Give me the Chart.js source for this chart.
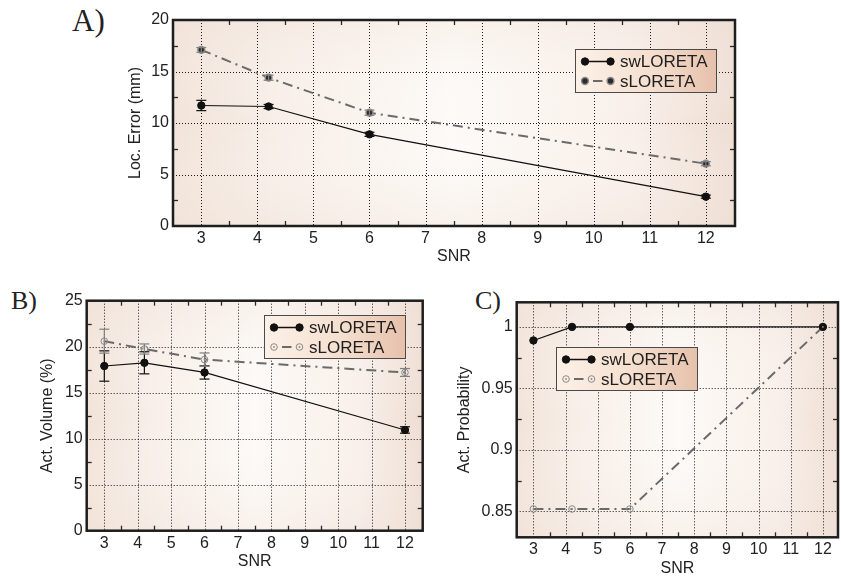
<!DOCTYPE html>
<html>
<head>
<meta charset="utf-8">
<title>swLORETA vs sLORETA</title>
<script src="https://cdn.jsdelivr.net/npm/chart.js@4.4.1/dist/chart.umd.min.js"></script>
<style>
  html, body { margin: 0; padding: 0; background: #fff; overflow: hidden; }
  canvas { position: absolute; }
  .tag { position: absolute; font-family: "Liberation Serif", "Times New Roman", serif; line-height: 1; color: #222; }
</style>
</head>
<body>
<div class="tag" style="left:72px; top:5px; font-size:31px;">A)</div>
<div class="tag" style="left:11px; top:288px; font-size:26px;">B)</div>
<div class="tag" style="left:475px; top:288px; font-size:26px;">C)</div>

<canvas id="chartA" width="841" height="275" style="left:0; top:0;"></canvas>
<canvas id="chartB" width="440" height="308" style="left:0; top:275px;"></canvas>
<canvas id="chartC" width="403" height="308" style="left:440px; top:275px;"></canvas>

<script>
// SNR levels of the simulations
const snrLevels = [3, 4.2, 6, 12];
const snrTicks = [3, 4, 5, 6, 7, 8, 9, 10, 11, 12];
const snrMinorTicks = [3.5, 4.5, 5.5, 6.5, 7.5, 8.5, 9.5, 10.5, 11.5];

const seriesNames = ['swLORETA', 'sLORETA'];

// A) localization error (mm)
const locErrorSw = [11.7, 11.6, 8.9, 2.85];
const locErrorSwErr = [0.5, 0.2, 0.2, 0.15];
const locErrorS = [17.1, 14.4, 11.0, 6.05];
const locErrorSErr = [0.23, 0.25, 0.25, 0.2];
const locErrorTicks = [0, 5, 10, 15, 20];
const locErrorMinorTicks = [2.5, 7.5, 12.5, 17.5];

// B) activated volume (%)
const actVolumeSw = [17.9, 18.25, 17.2, 10.95];
const actVolumeSwErr = [1.65, 1.2, 0.72, 0.35];
const actVolumeS = [20.6, 19.75, 18.6, 17.2];
const actVolumeSErr = [1.3, 0.55, 0.72, 0.43];
const actVolumeTicks = [0, 5, 10, 15, 20, 25];
const actVolumeMinorTicks = [2.5, 7.5, 12.5, 17.5, 22.5];

// C) activation probability
const actProbSw = [0.989, 1, 1, 1];
const actProbS = [0.852, 0.852, 0.852, 1];
const actProbTicks = [0.85, 0.9, 0.95, 1];
const actProbMinorTicks = [0.875, 0.925, 0.975];

Chart.defaults.font.family = '"Liberation Sans", Arial, sans-serif';
Chart.defaults.color = '#222';

// Turn x and y arrays into {x, y} points
function toPoints(values) {
    return snrLevels.map((x, i) => ({ x: x, y: values[i] }));
}

function line(ctx, x0, y0, x1, y1) {
    ctx.beginPath();
    ctx.moveTo(x0, y0);
    ctx.lineTo(x1, y1);
    ctx.stroke();
}

// Background, dotted grid, error bars, frame, inward ticks and legend box
const paperPlugin = {
    id: 'paper',
    beforeDraw(chart) {
        const { ctx, chartArea: a } = chart;
        ctx.save();
        const g = ctx.createLinearGradient(a.left, 0, a.right, 0);
        g.addColorStop(0, '#f1e3d9');
        g.addColorStop(0.18, '#f7eee7');
        g.addColorStop(0.5, '#fdfaf7');
        g.addColorStop(0.82, '#f8efe9');
        g.addColorStop(1, '#eeddd2');
        ctx.fillStyle = g;
        ctx.fillRect(a.left, a.top, a.width, a.height);
        const v = ctx.createLinearGradient(0, a.top, 0, a.bottom);
        v.addColorStop(0, 'rgba(240, 226, 216, 0.35)');
        v.addColorStop(0.5, 'rgba(255, 255, 255, 0)');
        v.addColorStop(1, 'rgba(240, 226, 216, 0.35)');
        ctx.fillStyle = v;
        ctx.fillRect(a.left, a.top, a.width, a.height);
        ctx.restore();
    },
    beforeDatasetsDraw(chart) {
        const { ctx, chartArea: a, scales: { x, y } } = chart;
        ctx.save();
        ctx.strokeStyle = '#1a1a1a';
        ctx.lineWidth = 1;
        ctx.setLineDash([1, 2]);
        x.ticks.forEach(t => {
            const px = Math.round(x.getPixelForValue(t.value)) + 0.5;
            line(ctx, px, a.top, px, a.bottom);
        });
        y.ticks.forEach(t => {
            const py = Math.round(y.getPixelForValue(t.value)) + 0.5;
            line(ctx, a.left, py, a.right, py);
        });
        ctx.restore();
    },
    afterDatasetsDraw(chart) {
        const { ctx, scales: { y } } = chart;
        ctx.save();
        chart.data.datasets.forEach((ds, i) => {
            const meta = chart.getDatasetMeta(i);
            meta.data.forEach((pt, j) => {
                if (ds.errorBars) {
                    const val = ds.data[j].y;
                    const top = y.getPixelForValue(val + ds.errorBars[j]);
                    const bot = y.getPixelForValue(val - ds.errorBars[j]);
                    ctx.strokeStyle = ds.errorColor;
                    ctx.lineWidth = 1.2;
                    line(ctx, pt.x, top, pt.x, bot);
                    line(ctx, pt.x - 5, top, pt.x + 5, top);
                    line(ctx, pt.x - 5, bot, pt.x + 5, bot);
                }
                if (ds.centerDot) {
                    ctx.fillStyle = ds.pointBorderColor;
                    ctx.beginPath();
                    ctx.arc(pt.x, pt.y, 0.9, 0, Math.PI * 2);
                    ctx.fill();
                }
            });
        });
        ctx.restore();
    },
    afterDraw(chart, args, opts) {
        const { ctx, chartArea: a, scales: { x, y } } = chart;
        ctx.save();
        // inward minor ticks
        ctx.strokeStyle = '#2a2a2a';
        ctx.lineWidth = 1.3;
        opts.minorX.forEach(v => {
            const px = Math.round(x.getPixelForValue(v)) + 0.5;
            line(ctx, px, a.top, px, a.top + 5);
            line(ctx, px, a.bottom, px, a.bottom - 5);
        });
        opts.minorY.forEach(v => {
            const py = Math.round(y.getPixelForValue(v)) + 0.5;
            line(ctx, a.left, py, a.left + 5, py);
            line(ctx, a.right, py, a.right - 5, py);
        });
        // frame
        ctx.strokeStyle = '#1e1e1e';
        ctx.lineWidth = 2.5;
        ctx.strokeRect(a.left, a.top, a.width, a.height);
        drawLegend(chart, opts.legend);
        ctx.restore();
    }
};

function drawLegend(chart, pos) {
    const { ctx, chartArea: a } = chart;
    const bx = Math.round(a.left + pos.left), by = Math.round(a.top + pos.top);
    const bw = 141, bh = 43;
    const g = ctx.createLinearGradient(bx, 0, bx + bw, 0);
    g.addColorStop(0, '#fcf1e7');
    g.addColorStop(0.55, '#f5dfcf');
    g.addColorStop(1, '#e6c1ac');
    ctx.fillStyle = g;
    ctx.fillRect(bx, by, bw, bh);
    ctx.strokeStyle = '#4a4a4a';
    ctx.lineWidth = 1;
    ctx.strokeRect(bx + 0.5, by + 0.5, bw, bh);

    chart.data.datasets.forEach((ds, i) => {
        const ry = by + 12.5 + i * 19.5;
        const x0 = bx + 10, x1 = bx + 35.5;
        ctx.strokeStyle = ds.borderColor;
        ctx.lineWidth = ds.borderDash ? 2 : 1.5;
        if (ds.borderDash) {
            line(ctx, x0 + 8, ry, x1 - 8, ry);
        } else {
            line(ctx, x0, ry, x1, ry);
        }
        [x0, x1].forEach(mx => {
            ctx.beginPath();
            ctx.arc(mx, ry, ds.pointRadius, 0, Math.PI * 2);
            ctx.fillStyle = ds.pointBackgroundColor;
            ctx.fill();
            ctx.lineWidth = ds.pointBorderWidth;
            ctx.strokeStyle = ds.pointBorderColor;
            ctx.stroke();
            if (ds.centerDot) {
                ctx.beginPath();
                ctx.arc(mx, ry, 0.9, 0, Math.PI * 2);
                ctx.fillStyle = ds.pointBorderColor;
                ctx.fill();
            }
        });
        ctx.fillStyle = '#1e1e1e';
        ctx.font = '17px "Liberation Sans", Arial, sans-serif';
        ctx.textBaseline = 'middle';
        ctx.fillText(ds.label, bx + 45, ry + 1);
    });
}

// Axis setup shared by the three panels
function makeScales(p) {
    return {
        x: {
            type: 'linear',
            min: p.xMin,
            max: p.xMax,
            afterBuildTicks: s => { s.ticks = snrTicks.map(v => ({ value: v })); },
            afterFit: s => { s.height = p.xHeight; },
            grid: { display: false, drawTicks: false },
            border: { display: false },
            ticks: { padding: 3, autoSkip: false, maxRotation: 0, font: { size: 16 }, callback: v => String(v) },
            title: { display: true, text: 'SNR', padding: 0, font: { size: 16 } }
        },
        y: {
            type: 'linear',
            min: p.yMin,
            max: p.yMax,
            afterBuildTicks: s => { s.ticks = p.yTicks.map(v => ({ value: v })); },
            afterFit: s => { s.width = p.yWidth; },
            grid: { display: false, drawTicks: false },
            border: { display: false },
            ticks: { padding: 4, autoSkip: false, font: { size: 16 }, callback: v => String(v) },
            title: { display: true, text: p.yTitle, padding: 0, font: { size: 16 } }
        }
    };
}

function swDataset(values, errors) {
    return {
        label: seriesNames[0],
        data: toPoints(values),
        borderColor: '#111',
        borderWidth: 1.2,
        pointRadius: 3.7,
        pointBackgroundColor: '#111',
        pointBorderColor: '#111',
        pointBorderWidth: 1,
        errorBars: errors,
        errorColor: '#111',
        tension: 0,
        fill: false
    };
}

function sDataset(values, errors, hollow) {
    return {
        label: seriesNames[1],
        data: toPoints(values),
        borderColor: '#6a6a6a',
        borderWidth: 2,
        borderDash: [10, 5, 2, 5],
        pointRadius: hollow ? 3.3 : 3.4,
        pointBackgroundColor: hollow ? 'rgba(255,255,255,0)' : '#2b2b2b',
        pointBorderColor: '#8a8a8a',
        pointBorderWidth: hollow ? 1 : 1.5,
        centerDot: hollow,
        errorBars: errors,
        errorColor: '#808080',
        tension: 0,
        fill: false
    };
}

function createPanel(id, datasets, scaleParams, padding, plotOpts) {
    new Chart(document.getElementById(id), {
        type: 'line',
        data: { datasets: datasets },
        options: {
            responsive: false,
            animation: false,
            layout: { padding: padding },
            plugins: {
                legend: { display: false },
                tooltip: { enabled: false },
                paper: plotOpts
            },
            scales: makeScales(scaleParams)
        },
        plugins: [paperPlugin]
    });
}

// A) Loc. Error
createPanel('chartA',
    [swDataset(locErrorSw, locErrorSwErr), sDataset(locErrorS, locErrorSErr, false)],
    { xMin: 2.495, xMax: 12.52, yMin: 0, yMax: 20, yTicks: locErrorTicks, yTitle: 'Loc. Error (mm)', yWidth: 46.6, xHeight: 40.6 },
    { left: 126.4, top: 20, right: 106, bottom: 8.4 },
    { minorX: snrMinorTicks, minorY: locErrorMinorTicks, legend: { left: 402, top: 29.3 } });

// B) Act. Volume
createPanel('chartB',
    [swDataset(actVolumeSw, actVolumeSwErr), sDataset(actVolumeS, actVolumeSErr, true)],
    { xMin: 2.473, xMax: 12.53, yMin: 0, yMax: 25, yTicks: actVolumeTicks, yTitle: 'Act. Volume (%)', yWidth: 48.3, xHeight: 40.9 },
    { left: 38.4, top: 25.7, right: 17.3, bottom: 11.4 },
    { minorX: snrMinorTicks, minorY: actVolumeMinorTicks, legend: { left: 177.3, top: 14.3 } });

// C) Act. Probability
createPanel('chartC',
    [swDataset(actProbSw, null), sDataset(actProbS, null, true)],
    { xMin: 2.48, xMax: 12.47, yMin: 0.829, yMax: 1.02, yTicks: actProbTicks, yTitle: 'Act. Probability', yWidth: 61.3, xHeight: 41.3 },
    { left: 15.4, top: 27.3, right: 0.5, bottom: 4.4 },
    { minorX: snrMinorTicks, minorY: actProbMinorTicks, legend: { left: 39, top: 45 } });
</script>
</body>
</html>
